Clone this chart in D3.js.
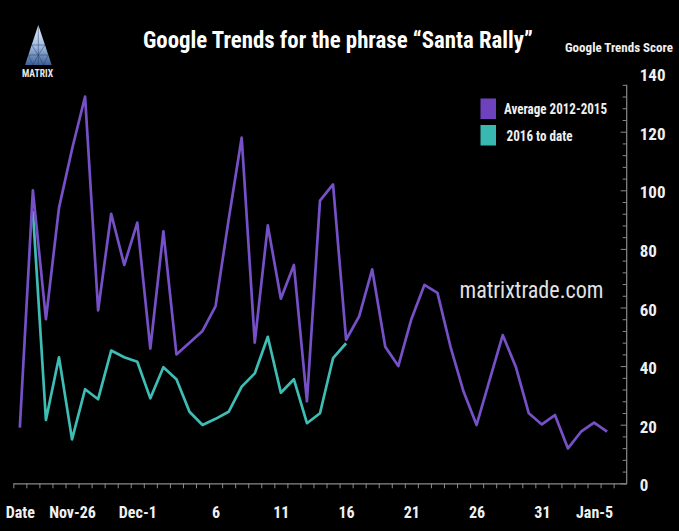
<!DOCTYPE html>
<html>
<head>
<meta charset="utf-8">
<script src="https://cdnjs.cloudflare.com/ajax/libs/d3/7.8.5/d3.min.js"></script>
<style>
  html, body { margin: 0; padding: 0; background: #000; }
  svg { display: block; }
</style>
</head>
<body>
<svg id="chart" width="679" height="531"></svg>
<script>
// ---- data (one value per day, index = day position on the category axis) ----
const avg2012_2015 = [19, 100, 56, 94, 114, 132, 59, 92, 74.5, 89, 46, 86, 44, 48, 52, 60.5,
  90, 118, 48, 88, 63, 74.5, 28, 96.5, 102, 49, 57, 73, 46.6, 40, 56, 67.7, 65, 46.6, 31.3,
  19.9, 35.3, 50.6, 39.8, 23.9, 20.1, 23.3, 11.9, 17.6, 20.7, 17.6];
const toDate2016 = [null, 93, 21.6, 43, 15, 32.1, 28.7, 45.3, 43, 41.5, 29, 39.6, 35.5, 24.4,
  19.9, 22, 24.4, 33, 37.5, 50, 30.9, 35.5, 20.5, 23.9, 42.7, 47.8];
const nCategories = 47;
const xTickLabels = ["Date", "Nov-26", "Dec-1", "6", "11", "16", "21", "26", "31", "Jan-5"];
const xTickIndex = [0, 4, 9, 15, 20, 25, 30, 35, 40, 44];
const yTickValues = [0, 20, 40, 60, 80, 100, 120, 140];
const seriesNames = ["Average 2012-2015", "2016 to date"];
const seriesColors = ["#7650c6", "#3ebdb5"];
const legendColors = ["#6f42bd", "#39b8b1"];

// ---- layout ----
const svg = d3.select("#chart");
const FONT = "'Liberation Sans Narrow','Arial Narrow','Roboto Condensed','Liberation Sans',sans-serif";
svg.append("rect").attr("width", 679).attr("height", 531).attr("fill", "#000");

const x = d3.scaleLinear().domain([-0.5, nCategories - 0.5]).range([13.3, 626.7]);
const y = d3.scaleLinear().domain([0, 140]).range([483.3, 73.1]);

// x axis: tick marks at category boundaries
const xAxisTicks = d3.axisBottom(x)
  .tickValues(d3.range(-0.5, nCategories - 0.5, 1))
  .tickFormat("")
  .tickSize(5)
  .tickSizeOuter(0);
const gx = svg.append("g").attr("transform", `translate(0,${y(0)})`).call(xAxisTicks);
gx.select(".domain").attr("stroke", "#8a8a8a").attr("stroke-width", 1.2);
gx.selectAll(".tick line").attr("stroke", "#8a8a8a").attr("stroke-width", 1);

// x axis labels
const xLabelAxis = d3.axisBottom(x)
  .tickValues(xTickIndex)
  .tickFormat((d, i) => xTickLabels[i])
  .tickSize(0)
  .tickPadding(30);
const gxl = svg.append("g").attr("transform", `translate(0,${y(0)})`).call(xLabelAxis);
gxl.select(".domain").remove();
gxl.selectAll("text").attr("fill", "#f0f0f0").attr("font-family", FONT)
  .attr("font-weight", "bold").attr("font-size", 16).attr("dy", "0.32em");

// y axis on the right
const yAxisLine = d3.axisLeft(y)
  .tickValues(d3.range(0, 137, 4))
  .tickFormat("")
  .tickSize(4)
  .tickSizeOuter(0);
const gy = svg.append("g").attr("transform", `translate(${x(nCategories - 0.5)},0)`).call(yAxisLine);
gy.select(".domain").attr("stroke", "#8a8a8a").attr("stroke-width", 1.2)
  .attr("d", `M0,${y(0)}V${y(136)}`);
gy.selectAll(".tick line").attr("stroke", "#8a8a8a");
gy.selectAll(".tick").filter(d => d % 20 === 0).select("line").attr("x2", -6);

const yLabelAxis = d3.axisRight(y).tickValues(yTickValues).tickSize(0).tickPadding(13);
const gyl = svg.append("g").attr("transform", `translate(${x(nCategories - 0.5)},0)`).call(yLabelAxis);
gyl.select(".domain").remove();
gyl.selectAll("text").attr("fill", "#f0f0f0").attr("font-family", FONT)
  .attr("font-weight", "bold").attr("font-size", 17).attr("dy", "0.45em");

// ---- lines ----
const line = d3.line()
  .defined(d => d != null)
  .x((d, i) => x(i))
  .y(d => y(d));

svg.append("path").datum(toDate2016)
  .attr("fill", "none").attr("stroke", seriesColors[1]).attr("stroke-width", 2.7)
  .attr("stroke-linejoin", "round").attr("d", line);
svg.append("path").datum(avg2012_2015)
  .attr("fill", "none").attr("stroke", seriesColors[0]).attr("stroke-width", 2.7)
  .attr("stroke-linejoin", "round").attr("d", line);

// ---- titles ----
svg.append("text").attr("x", 338).attr("y", 48).attr("text-anchor", "middle")
  .attr("fill", "#fff").attr("font-family", FONT).attr("font-weight", "bold")
  .attr("font-size", 24).attr("textLength", 390).attr("lengthAdjust", "spacingAndGlyphs")
  .text("Google Trends for the phrase “Santa Rally”");

svg.append("text").attr("x", 565).attr("y", 52)
  .attr("fill", "#f0f0f0").attr("font-family", FONT).attr("font-weight", "bold")
  .attr("font-size", 13).attr("textLength", 108).attr("lengthAdjust", "spacingAndGlyphs")
  .text("Google Trends Score");

// ---- legend ----
const legend = svg.append("g");
const legendY = [98.5, 125];
const legendTextW = [103, 66];
seriesNames.forEach((name, i) => {
  legend.append("rect").attr("x", 480.5).attr("y", legendY[i]).attr("width", 15.5).attr("height", 20.5)
    .attr("fill", legendColors[i]);
  legend.append("text").attr("x", i === 0 ? 504 : 506.5).attr("y", legendY[i] + 15.5)
    .attr("fill", "#f0f0f0").attr("font-family", FONT).attr("font-weight", "bold")
    .attr("font-size", 14).attr("textLength", legendTextW[i]).attr("lengthAdjust", "spacingAndGlyphs")
    .text(name);
});

// ---- watermark ----
svg.append("text").attr("x", 459.5).attr("y", 298)
  .attr("fill", "#e2e2e2").attr("font-family", FONT)
  .attr("font-size", 24.5).attr("textLength", 144).attr("lengthAdjust", "spacingAndGlyphs")
  .text("matrixtrade.com");

// ---- logo ----
const defs = svg.append("defs");
const grad = defs.append("linearGradient").attr("id", "lg").attr("x1", 0).attr("y1", 0).attr("x2", 0).attr("y2", 1);
grad.append("stop").attr("offset", "0%").attr("stop-color", "#e8f0fb");
grad.append("stop").attr("offset", "55%").attr("stop-color", "#9fb8dd");
grad.append("stop").attr("offset", "100%").attr("stop-color", "#3d5f95");
const logo = svg.append("g");
logo.append("path").attr("d", "M38.3,25 L51.7,65 L25,65 Z").attr("fill", "url(#lg)");
logo.append("path").attr("d", "M38.3,25 L38.3,65 M31.6,45 L45,45 M28.3,55 L48.3,55 M31.6,45 L38.3,55 L45,45 M28.3,55 L33,65 L38.3,55 L43.6,65 L48.3,55")
  .attr("stroke", "#1f3a66").attr("stroke-width", 0.6).attr("fill", "none").attr("opacity", 0.8);
logo.append("text").attr("x", 37.5).attr("y", 77).attr("text-anchor", "middle")
  .attr("fill", "#e8e8e8").attr("font-family", FONT).attr("font-weight", "bold")
  .attr("font-size", 10).attr("textLength", 31).attr("lengthAdjust", "spacingAndGlyphs")
  .text("MATRIX");
</script>
</body>
</html>
